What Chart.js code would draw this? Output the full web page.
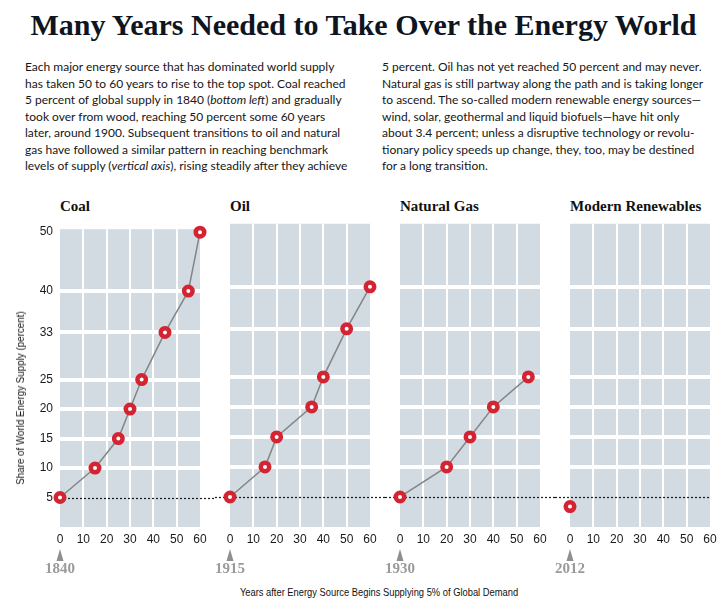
<!DOCTYPE html>
<html lang="en">
<head>
<meta charset="UTF-8" />
<title>Many Years Needed to Take Over the Energy World</title>
<script src="https://cdn.jsdelivr.net/npm/chart.js"></script>
<style>
  body { margin: 0; background: #fff; }
  #page { position: relative; width: 727px; height: 611px; overflow: hidden; color: #161616; }
  h1 { position: absolute; left: 0; top: 10px; width: 727px; margin: 0; text-align: center;
       font: bold 30px/30px "Liberation Serif", serif; color: #0e1521; white-space: nowrap; }
  .col { position: absolute; top: 59px; font: 12px/16.5px Lato, sans-serif; white-space: nowrap; }
  .panel-title { position: absolute; top: 199px; font: bold 15px/14px "Liberation Serif", serif; color: #111; }
  canvas { position: absolute; top: 215px; }
  .axis-title { position: absolute; font: 11px/12px "Liberation Sans Narrow", "Liberation Sans", sans-serif;
                color: #111; white-space: nowrap; }
  #ytitle { left: 20px; top: 398px; transform: translate(-50%, -50%) rotate(-90deg) scaleX(0.89); }
  #xtitle { left: 379px; top: 592px; transform: translate(-50%, -50%) scaleX(0.85); }
</style>
</head>
<body>
<div id="page">
  <h1>Many Years Needed to Take Over the Energy World</h1>
  <div class="col" style="left:25px">
    Each major energy source that has dominated world supply<br>
    has taken 50 to 60 years to rise to the top spot. Coal reached<br>
    5 percent of global supply in 1840 (<i>bottom left</i>) and gradually<br>
    took over from wood, reaching 50 percent some 60 years<br>
    later, around 1900. Subsequent transitions to oil and natural<br>
    gas have followed a similar pattern in reaching benchmark<br>
    levels of supply (<i>vertical axis</i>), rising steadily after they achieve
  </div>
  <div class="col" style="left:382px">
    5 percent. Oil has not yet reached 50 percent and may never.<br>
    Natural gas is still partway along the path and is taking longer<br>
    to ascend. The so-called modern renewable energy sources—<br>
    wind, solar, geothermal and liquid biofuels—have hit only<br>
    about 3.4 percent; unless a disruptive technology or revolu-<br>
    tionary policy speeds up change, they, too, may be destined<br>
    for a long transition.
  </div>
  <canvas id="c0" width="215" height="370" style="left:0px"></canvas>
  <canvas id="c1" width="170" height="370" style="left:215px"></canvas>
  <canvas id="c2" width="170" height="370" style="left:385px"></canvas>
  <canvas id="c3" width="170" height="370" style="left:555px"></canvas>
  <div class="axis-title" id="ytitle">Share of World Energy Supply (percent)</div>
  <div class="axis-title" id="xtitle">Years after Energy Source Begins Supplying 5% of Global Demand</div>
</div>
<script>
  const panelNames = ["Coal", "Oil", "Natural Gas", "Modern Renewables"];
  const startYears = ["1840", "1915", "1930", "2012"];

  // years after reaching 5% -> share of world supply (percent)
  const coalYears = [0, 15, 25, 30, 35, 45, 55, 60];
  const coalShare = [5, 10, 15, 20, 25, 33, 40, 50];
  const oilYears = [0, 15, 20, 35, 40, 50, 60];
  const oilShare = [5, 10, 15, 20, 25, 33, 40];
  const gasYears = [0, 20, 30, 40, 55];
  const gasShare = [5, 10, 15, 20, 25];
  const renewYears = [0];
  const renewShare = [3.4];

  const shareTicks = [5, 10, 15, 20, 25, 33, 40, 50];
  const yearTicks = [0, 10, 20, 30, 40, 50, 60];
  const benchmark = 5;

  const tickFont = { family: "'Liberation Sans Narrow', 'Liberation Sans', sans-serif", size: 12 };

  // grey panel behind the grid
  const panelBackground = {
    id: "panelBackground",
    beforeDraw(chart) {
      const { ctx, chartArea: a } = chart;
      ctx.save();
      ctx.fillStyle = "#d1dbe1";
      ctx.fillRect(a.left, a.top, a.right - a.left, a.bottom - a.top);
      ctx.restore();
    },
  };

  function makeChart(i, years, shares) {
    const first = i === 0;
    const last = i === panelNames.length - 1;

    // dotted 5% line, runs on through the gaps into the next panel
    const benchmarkLine = {
      id: "benchmarkLine",
      beforeDatasetsDraw(chart) {
        const { ctx, scales } = chart;
        const y = Math.round(scales.y.getPixelForValue(benchmark)) + 0.5;
        const x0 = first ? scales.x.getPixelForValue(0) : 0;
        const x1 = last ? chart.chartArea.right : chart.width;
        ctx.save();
        ctx.strokeStyle = "#1a1a1a";
        ctx.lineWidth = 1.2;
        ctx.setLineDash([2, 2]);
        ctx.beginPath();
        ctx.moveTo(x0, y);
        ctx.lineTo(x1, y);
        ctx.stroke();
        ctx.restore();
      },
    };

    // arrow + start year under the zero tick
    const startMarker = {
      id: "startMarker",
      afterDraw(chart) {
        const { ctx, scales, chartArea } = chart;
        const x = scales.x.getPixelForValue(0);
        const b = chartArea.bottom;
        ctx.save();
        ctx.fillStyle = "#8f8f8f";
        ctx.beginPath();
        ctx.moveTo(x, b + 22);
        ctx.lineTo(x - 3.5, b + 34);
        ctx.lineTo(x + 3.5, b + 34);
        ctx.closePath();
        ctx.fill();
        ctx.fillStyle = "#9a9a9a";
        ctx.font = "bold 15px 'Liberation Serif', serif";
        ctx.textAlign = "center";
        ctx.textBaseline = "middle";
        ctx.fillText(startYears[i], x, b + 42);
        ctx.restore();
      },
    };

    return new Chart(document.getElementById("c" + i), {
      type: "line",
      data: {
        datasets: [
          {
            data: years.map((x, k) => ({ x: x, y: shares[k] })),
            borderColor: "#858585",
            borderWidth: 1.5,
            pointRadius: 4.25,
            pointBorderWidth: 4.5,
            pointBackgroundColor: "#ffffff",
            pointBorderColor: "#d42331",
            tension: 0,
            clip: false,
          },
        ],
      },
      options: {
        responsive: false,
        animation: false,
        layout: { padding: { left: first ? 0 : 15, right: 15, top: 8, bottom: 38 } },
        plugins: { legend: { display: false }, tooltip: { enabled: false } },
        scales: {
          x: {
            type: "linear",
            min: 0,
            max: 60,
            afterBuildTicks: (s) => { s.ticks = yearTicks.map((v) => ({ value: v })); },
            afterFit: (s) => { s.height = 20; },
            border: { display: false },
            grid: {
              drawTicks: false,
              lineWidth: 2,
              color: (c) => (c.tick && c.tick.value > 0 && c.tick.value < 60 ? "#ffffff" : "rgba(0,0,0,0)"),
            },
            ticks: { padding: 5, color: "#1a1a1a", font: tickFont, maxRotation: 0, autoSkip: false },
          },
          y: {
            type: "linear",
            min: 0,
            max: 50.5,
            afterBuildTicks: (s) => { s.ticks = shareTicks.map((v) => ({ value: v })); },
            afterFit: (s) => { s.width = first ? 60 : 0; },
            border: { display: false },
            grid: {
              drawTicks: false,
              lineWidth: 4,
              color: (c) => (c.tick && c.tick.value > benchmark && c.tick.value < 50 ? "#ffffff" : "rgba(0,0,0,0)"),
            },
            ticks: { display: first, padding: 7, color: "#1a1a1a", font: tickFont, autoSkip: false },
          },
        },
      },
      plugins: [panelBackground, benchmarkLine, startMarker],
    });
  }

  // panel headings
  const page = document.getElementById("page");
  panelNames.forEach((name, i) => {
    const el = document.createElement("div");
    el.className = "panel-title";
    el.style.left = (60 + i * 170) + "px";
    el.textContent = name;
    page.appendChild(el);
  });

  makeChart(0, coalYears, coalShare);
  makeChart(1, oilYears, oilShare);
  makeChart(2, gasYears, gasShare);
  makeChart(3, renewYears, renewShare);
</script>
</body>
</html>
